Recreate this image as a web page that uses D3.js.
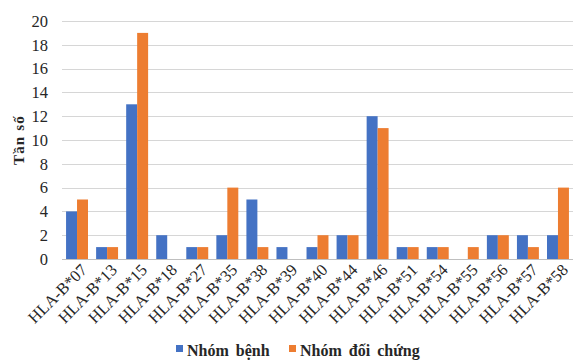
<!DOCTYPE html>
<html>
<head>
<meta charset="utf-8">
<script src="https://cdn.jsdelivr.net/npm/d3@7/dist/d3.min.js"></script>
<style>
  html, body { margin: 0; padding: 0; background: #fff; }
  svg { display: block; }
</style>
</head>
<body>
<svg id="chart" width="573" height="361"></svg>
<script>
// HLA-B allele frequencies: patient group vs control group
const alleles = ["HLA-B*07","HLA-B*13","HLA-B*15","HLA-B*18","HLA-B*27","HLA-B*35","HLA-B*38","HLA-B*39","HLA-B*40","HLA-B*44","HLA-B*46","HLA-B*51","HLA-B*54","HLA-B*55","HLA-B*56","HLA-B*57","HLA-B*58"];
const patientCounts = [4, 1, 13, 2, 1, 2, 5, 1, 1, 2, 12, 1, 1, 0, 2, 2, 2];
const controlCounts = [5, 1, 19, 0, 1, 6, 1, 0, 2, 2, 11, 1, 1, 1, 2, 1, 6];
const seriesNames = ["Nhóm bệnh", "Nhóm đối chứng"];
const yTicks = [0, 2, 4, 6, 8, 10, 12, 14, 16, 18, 20];

const colors = ["#4472C4", "#ED7D31"];
const font = "'Liberation Serif', 'Times New Roman', serif";

const svg = d3.select("#chart");
const margin = { left: 62, right: 0, top: 21, bottom: 102 };
const W = 573, H = 361;

const x = d3.scaleBand()
  .domain(alleles)
  .range([margin.left, W - margin.right])
  .paddingInner(0.27)
  .paddingOuter(0.135);

const x1 = d3.scaleBand()
  .domain([0, 1])
  .range([0, x.bandwidth()]);

const y = d3.scaleLinear()
  .domain([0, 20])
  .range([H - margin.bottom, margin.top]);

// Horizontal gridlines
svg.append("g")
  .selectAll("line")
  .data(yTicks)
  .join("line")
  .attr("x1", margin.left)
  .attr("x2", W - margin.right)
  .attr("y1", d => Math.round(y(d)) + 0.5)
  .attr("y2", d => Math.round(y(d)) + 0.5)
  .attr("stroke", d => d === 0 ? "#bfbfbf" : "#d6d6d6")
  .attr("stroke-width", 1.2);

// Y axis labels
const yAxis = svg.append("g")
  .attr("transform", `translate(${margin.left},0)`)
  .call(d3.axisLeft(y).tickValues(yTicks).tickSize(0).tickPadding(14));
yAxis.select(".domain").remove();
yAxis.selectAll("text")
  .attr("font-family", font)
  .attr("font-size", 16.5)
  .attr("fill", "#262626");

// Bars
const groups = svg.append("g")
  .selectAll("g")
  .data(alleles.map((a, i) => ({ a, vals: [patientCounts[i], controlCounts[i]] })))
  .join("g")
  .attr("transform", d => `translate(${x(d.a)},0)`);

groups.selectAll("rect")
  .data(d => d.vals.map((v, k) => ({ v, k })))
  .join("rect")
  .attr("x", d => x1(d.k))
  .attr("width", x1.bandwidth())
  .attr("y", d => y(d.v))
  .attr("height", d => y(0) - y(d.v))
  .attr("fill", d => colors[d.k]);

// X axis labels, rotated
const xAxis = svg.append("g")
  .attr("transform", `translate(0,${y(0)})`)
  .call(d3.axisBottom(x).tickSize(0).tickPadding(0));
xAxis.select(".domain").remove();
xAxis.selectAll("text")
  .attr("font-family", font)
  .attr("font-size", 16.5)
  .attr("fill", "#262626")
  .attr("text-anchor", "end")
  .attr("dy", 0)
  .attr("transform", "translate(11,12) rotate(-45)");

// Y axis title
svg.append("text")
  .attr("transform", `translate(24,140) rotate(-90)`)
  .attr("text-anchor", "middle")
  .attr("font-family", font)
  .attr("font-size", 15)
  .attr("font-weight", "bold")
  .attr("letter-spacing", 1.2)
  .attr("fill", "#262626")
  .text("Tần số");

// Legend
const legendItems = [
  { name: seriesNames[0], color: colors[0], x: 176 },
  { name: seriesNames[1], color: colors[1], x: 289 }
];
const lg = svg.append("g").selectAll("g")
  .data(legendItems)
  .join("g")
  .attr("transform", d => `translate(${d.x},0)`);
lg.append("rect")
  .attr("x", 0).attr("y", 345)
  .attr("width", 7).attr("height", 7)
  .attr("fill", d => d.color);
lg.append("text")
  .attr("x", 11).attr("y", 356)
  .attr("font-family", font)
  .attr("font-size", 16)
  .attr("font-weight", "bold")
  .attr("word-spacing", 3)
  .attr("fill", "#262626")
  .text(d => d.name);
</script>
</body>
</html>
